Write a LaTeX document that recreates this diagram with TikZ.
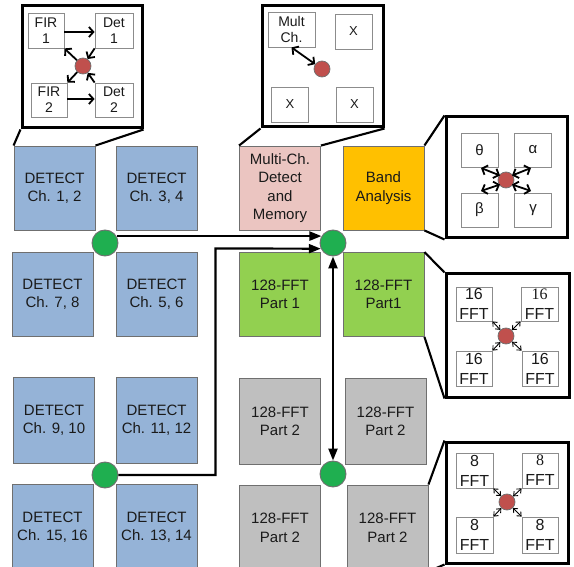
\documentclass[tikz,border=0pt]{standalone}
\usepackage{fontspec}
\setmainfont{Liberation Sans}
\newfontfamily\serifnum{Liberation Serif}
\usetikzlibrary{arrows.meta,calc}
\definecolor{cblue}{HTML}{95B3D7}
\definecolor{cpink}{HTML}{EBC5C1}
\definecolor{corange}{HTML}{FFC000}
\definecolor{cgreenbox}{HTML}{92D050}
\definecolor{cgray}{HTML}{BFBFBF}
\definecolor{cdot}{HTML}{1FAF50}
\definecolor{cred}{HTML}{C0504D}
\definecolor{boxline}{HTML}{6F6F6F}
\definecolor{iline}{HTML}{8C8C8C}
\definecolor{ink}{HTML}{1A1A1A}
\begin{document}
\begin{tikzpicture}[x=1pt,y=-1pt,
  mbox/.style={draw=boxline, line width=0.9pt, minimum width=81pt, minimum height=84pt,
    inner sep=0pt, align=center, text=ink, font=\fontsize{15}{18.5}\selectfont},
  tallbox/.style={mbox, minimum height=86pt},
  gdot/.style={circle, draw=boxline, fill=cdot, minimum size=26pt, inner sep=0pt, line width=0.9pt},
  rdot/.style={circle, draw=boxline, fill=cred, minimum size=16pt, inner sep=0pt, line width=0.7pt},
  inset/.style={draw=black, line width=3pt, fill=white, inner sep=0pt},
  ibox/.style={draw=iline, line width=0.8pt, fill=white, inner sep=0pt, align=center, text=ink,
    minimum width=37pt, minimum height=35pt, font=\fontsize{14}{16}\selectfont},
  fbox/.style={ibox, font=\fontsize{16}{20}\selectfont},
  zoomline/.style={line width=2.1pt, black},
  bigarr/.style={line width=2.2pt, -{Triangle[length=12pt,width=9pt]}},
  bigdarr/.style={line width=2.2pt, {Triangle[length=12pt,width=9pt]}-{Triangle[length=12pt,width=9pt]}},
  iarr/.style={line width=1.8pt, -{Straight Barb[length=4.5pt,width=10pt]}},
  idarr/.style={line width=1.8pt, {Straight Barb[length=4.5pt,width=10pt]}-{Straight Barb[length=4.5pt,width=10pt]}},
  tarr/.style={line width=0.9pt, {Straight Barb[length=3.5pt,width=6pt]}-{Straight Barb[length=3.5pt,width=6pt]}}
]
\useasboundingbox (0,0) rectangle (574,567);
\clip (0,0) rectangle (574,567);
\fill[white] (0,0) rectangle (574,567);

% ---- left group (blue) ----
\node[mbox, fill=cblue] (c12) at (54.5,188) {DETECT\\Ch. 1, 2};
\node[mbox, fill=cblue] (c34) at (156.5,188) {DETECT\\Ch. 3, 4};
\node[mbox, fill=cblue] (c78) at (52.5,294) {DETECT\\Ch. 7, 8};
\node[mbox, fill=cblue] (c56) at (156.5,294) {DETECT\\Ch. 5, 6};
\node[tallbox, fill=cblue] (c910) at (54,420) {DETECT\\Ch. 9, 10};
\node[tallbox, fill=cblue] (c1112) at (156.5,420) {DETECT\\Ch. 11, 12};
\node[tallbox, fill=cblue] (c1516) at (52.5,527) {DETECT\\Ch. 15, 16};
\node[tallbox, fill=cblue] (c1314) at (156.5,527) {DETECT\\Ch. 13, 14};

% ---- middle group ----
\node[mbox, fill=cpink] (multi) at (280,188) {Multi-Ch.\\Detect\\and\\Memory};
\node[mbox, fill=corange] (band) at (383.5,188) {Band\\Analysis};
\node[mbox, fill=cgreenbox] (p1) at (280,294.5) {128-FFT\\Part 1};
\node[mbox, fill=cgreenbox] (p1b) at (383.5,294.5) {128-FFT\\Part1};
\node[tallbox, fill=cgray] (g1) at (280,421.5) {128-FFT\\Part 2};
\node[tallbox, fill=cgray] (g2) at (385.5,421.5) {128-FFT\\Part 2};
\node[tallbox, fill=cgray] (g3) at (280,528) {128-FFT\\Part 2};
\node[tallbox, fill=cgray] (g4) at (387.5,528) {128-FFT\\Part 2};

% ---- green routers ----
\node[gdot] (gA) at (105,243) {};
\node[gdot] (gB) at (333,243) {};
\node[gdot] (gC) at (105,475) {};
\node[gdot] (gD) at (333,474) {};
\coordinate (bend) at (215.5,248.5);

\draw[bigarr] (gA.31) -- (gB.149);
\draw[bigarr] (gC.east) -| (bend) -- (gB.205);
\draw[bigdarr] (gB.south) -- (gD.north);

% ---- inset 1 ----
\node[inset, minimum width=120pt, minimum height=122pt] (in1) at (82,67) {};
\draw[zoomline] (in1.south west) -- (c12.north west);
\draw[zoomline] (in1.south east) -- (c12.north east);
\node[ibox, minimum width=36pt] (fir1) at (46,30.5) {FIR\\1};
\node[ibox, minimum width=38pt] (det1) at (114,30.5) {Det\\1};
\node[ibox, minimum width=36pt, minimum height=34pt] (fir2) at (49,100) {FIR\\2};
\node[ibox, minimum width=38pt, minimum height=34pt] (det2) at (114,100) {Det\\2};
\node[rdot] (r1) at (83,66) {};
\draw[iarr] (fir1.east |- 0,32) -- (det1.west |- 0,32);
\draw[iarr] (fir2.east |- 0,99) -- (det2.west |- 0,99);
\draw[iarr] (r1) -- (fir1.south east);
\draw[iarr] (r1) -- (fir2.north east);
\draw[iarr] (det1.south west) -- (r1);
\draw[iarr] (det2.north west) -- (r1);

% ---- inset 2 ----
\node[inset, minimum width=121pt, minimum height=121pt] (in2) at (322.5,66.5) {};
\draw[zoomline] (in2.south west) -- (multi.north west);
\draw[zoomline] (in2.south east) -- (multi.north east);
\node[ibox, minimum width=47pt] (mch) at (291.5,29.5) {Mult\\Ch.};
\node[ibox, font=\fontsize{13}{15}\selectfont] (x1) at (353.5,31.5) {X};
\node[ibox, font=\fontsize{13}{15}\selectfont] (x2) at (290,104.5) {X};
\node[ibox, font=\fontsize{13}{15}\selectfont] (x3) at (354.5,104.5) {X};
\node[rdot] (r2) at (322,69) {};
\draw[idarr] (mch.south) -- (r2);

% ---- inset 3 ----
\node[inset, minimum width=121pt, minimum height=121pt] (in3) at (506.5,177.5) {};
\draw[zoomline] (band.north east) -- (in3.north west);
\draw[zoomline] (band.south east) -- (in3.south west);
\node[ibox, minimum height=34pt, font=\fontsize{15}{17}\selectfont] (th) at (479.5,150) {θ};
\node[ibox, minimum height=34pt, font=\fontsize{15}{17}\selectfont] (al) at (533,150) {α};
\node[ibox, minimum height=34pt, font=\fontsize{15}{17}\selectfont] (be) at (479.5,210) {β};
\node[ibox, minimum height=34pt, font=\fontsize{15}{17}\selectfont] (ga) at (533,210) {γ};
\node[rdot] (r3) at (506,180) {};
\coordinate (t1) at (481,168);
\coordinate (t2) at (481,191);
\coordinate (t3) at (531,168);
\coordinate (t4) at (531,191);
\draw[idarr] ($(r3)+(-6,-4.5)$) -- (t1);
\draw[idarr] ($(r3)+(-6,4.5)$) -- (t2);
\draw[idarr] ($(r3)+(6,-4.5)$) -- (t3);
\draw[idarr] ($(r3)+(6,4.5)$) -- (t4);

% ---- inset 4 ----
\node[inset, minimum width=123pt, minimum height=123pt] (in4) at (507.5,335.5) {};
\draw[zoomline] (p1b.north east) -- (in4.north west);
\draw[zoomline] (p1b.south east) -- (in4.south west);
\node[fbox, minimum width=36pt, minimum height=34pt] (f1) at (474,304) {16\\FFT};
\node[fbox, minimum width=37pt, minimum height=34pt] (f2) at (539.5,304) {{\serifnum 16}\\FFT};
\node[fbox, minimum width=36pt] (f3) at (474,368.5) {16\\FFT};
\node[fbox, minimum width=36pt] (f4) at (540,368.5) {16\\FFT};
\node[rdot] (r4) at (506,336) {};
\draw[tarr] (f1.south east) -- (r4);
\draw[tarr] (f2.south west) -- (r4);
\draw[tarr] (f3.north east) -- (r4);
\draw[tarr] (f4.north west) -- (r4);

% ---- inset 5 ----
\node[inset, minimum width=122pt, minimum height=121pt] (in5) at (507,502.5) {};
\draw[zoomline] (g4.north east) -- (in5.north west);
\draw[zoomline] (g4.south east) -- (in5.south west);
\node[fbox] (e1) at (474.5,470.5) {8\\FFT};
\node[fbox, minimum width=36pt] (e2) at (540,470.5) {{\serifnum 8}\\FFT};
\node[fbox, minimum height=36pt] (e3) at (474.5,535) {8\\FFT};
\node[fbox, minimum width=36pt, minimum height=36pt] (e4) at (540,535) {8\\FFT};
\node[rdot] (r5) at (507,502) {};
\draw[tarr] (e1.south east) -- (r5);
\draw[tarr] (e2.south west) -- (r5);
\draw[tarr] (e3.north east) -- (r5);
\draw[tarr] (e4.north west) -- (r5);
\end{tikzpicture}
\end{document}
